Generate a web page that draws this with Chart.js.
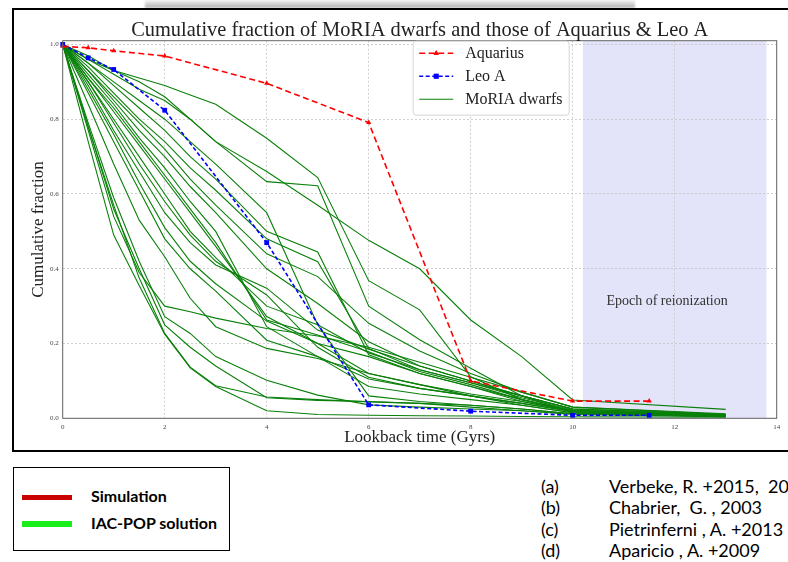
<!DOCTYPE html>
<html>
<head>
<meta charset="utf-8">
<script src="https://cdn.jsdelivr.net/npm/chart.js@4.4.1/dist/chart.umd.min.js"></script>
<style>
    html, body { margin: 0; padding: 0; background: #fff; }
    body { width: 788px; height: 562px; overflow: hidden; position: relative; }
    #chart { position: absolute; left: 0; top: 0; }
    #shadow {
        position: absolute; left: 145px; top: 0; width: 490px; height: 8px;
        background: linear-gradient(to bottom, rgba(0,0,0,0.04), rgba(0,0,0,0.32));
        filter: blur(1px);
    }
    #frame {
        position: absolute; left: 12px; top: 8px; width: 820px; height: 444px;
        box-sizing: border-box; border: 2.5px solid #000; pointer-events: none;
    }
    #keyBox {
        position: absolute; left: 13px; top: 467px; width: 217px; height: 84px;
        box-sizing: border-box; border: 1.5px solid #000;
    }
    .bar { position: absolute; left: 22px; width: 50px; height: 5.5px; }
    .keyText {
        position: absolute; left: 91px; font: bold 16px Lato, sans-serif; line-height: 16px;
        white-space: nowrap; color: #000;
    }
    .ref {
        position: absolute; font: 18px Lato, sans-serif; line-height: 21.3px; white-space: pre; color: #000;
    }
</style>
</head>
<body>
<div id="shadow"></div>
<canvas id="chart" width="788" height="452"></canvas>
<div id="frame"></div>

<div id="keyBox"></div>
<div class="bar" style="top:494.5px; background:#c80000;"></div>
<div class="keyText" style="top:487.5px;">Simulation</div>
<div class="bar" style="top:521px; background:#1bef1b;"></div>
<div class="keyText" style="top:514.5px;">IAC-POP solution</div>

<div id="refs"></div>

<script>
// 累积比例图: MoRIA 矮星系 vs Aquarius & Leo A

const TITLE = 'Cumulative fraction of MoRIA dwarfs and those of Aquarius & Leo A';
const SERIF = '"Liberation Serif", "DejaVu Serif", serif';

// 刻度
const xTicks = [0, 2, 4, 6, 8, 10, 12, 14];
const yTicks = [0.0, 0.2, 0.4, 0.6, 0.8, 1.0];

// 再电离时期 (Gyr)
const reionization = [10.2, 13.8];

// Aquarius
const aquariusX = [0, 0.5, 1, 2, 4, 6, 8, 10, 11.5];
const aquariusY = [0.995, 0.991, 0.983, 0.969, 0.896, 0.791, 0.100, 0.046, 0.046];

// Leo A
const leoX = [0, 0.5, 1, 2, 4, 6, 8, 10, 11.5];
const leoY = [1.0, 0.964, 0.933, 0.824, 0.470, 0.036, 0.019, 0.008, 0.008];

// MoRIA dwarfs (共用的时间点)
const moriaX = [0, 0.5, 1, 1.5, 2, 2.5, 3, 4, 5, 6, 7, 8, 9, 10, 13];
const moriaY = [
    [1, .74, .49, .355, .225, .135, .085, .020, .010, .008, .007, .006, .005, .004, .003],
    [1, .77, .54, .39, .300, .285, .268, .240, .220, .190, .150, .110, .070, .030, .010],
    [1, .78, .57, .375, .227, .137, .087, .057, .050, .044, .040, .035, .025, .012, .005],
    [1, .79, .59, .42, .272, .227, .165, .102, .062, .036, .030, .025, .020, .012, .006],
    [1, .78, .56, .40, .250, .190, .140, .055, .048, .045, .040, .030, .020, .010, .004],
    [1, .84, .68, .53, .432, .321, .245, .187, .160, .120, .090, .060, .035, .015, .006],
    [1, .87, .74, .61, .480, .400, .340, .209, .165, .105, .080, .060, .040, .018, .007],
    [1, .88, .76, .63, .510, .420, .360, .260, .200, .165, .120, .085, .045, .018, .006],
    [1, .89, .77, .66, .550, .470, .410, .348, .236, .185, .140, .100, .060, .025, .010],
    [1, .90, .79, .68, .580, .490, .420, .330, .190, .110, .080, .060, .040, .018, .007],
    [1, .90, .80, .70, .600, .500, .430, .300, .250, .175, .130, .095, .055, .022, .008],
    [1, .91, .82, .73, .640, .550, .460, .272, .200, .120, .090, .065, .045, .020, .008],
    [1, .91, .83, .74, .650, .560, .470, .263, .223, .178, .125, .090, .050, .020, .007],
    [1, .92, .84, .75, .670, .580, .500, .245, .165, .085, .065, .050, .035, .015, .006],
    [1, .93, .85, .77, .700, .620, .550, .400, .307, .205, .140, .100, .060, .025, .010],
    [1, .93, .86, .79, .720, .640, .570, .440, .379, .254, .180, .120, .070, .030, .012],
    [1, .94, .87, .80, .740, .670, .610, .480, .419, .187, .130, .095, .060, .025, .010],
    [1, .95, .89, .83, .770, .700, .640, .500, .445, .170, .120, .085, .050, .020, .008],
    [1, .95, .90, .85, .800, .740, .680, .550, .250, .060, .045, .035, .025, .012, .005],
    [1, .96, .92, .88, .850, .800, .740, .660, .570, .476, .400, .263, .165, .049, .024],
    [1, .96, .93, .90, .860, .800, .740, .633, .622, .300, .210, .134, .060, .015, .004],
    [1, .97, .93, .91, .890, .865, .840, .749, .644, .368, .290, .111, .050, .018, .006]
];

// 参考文献
const refLabels = ['(a)', '(b)', '(c)', '(d)'];
const refTexts = ['Verbeke, R. +2015,  20', 'Chabrier,  G. , 2003', 'Pietrinferni , A. +2013', 'Aparicio , A. +2009'];

const refs = document.getElementById('refs');
refLabels.forEach((label, i) => {
    const top = 476 + i * 21.3;
    refs.innerHTML += `<div class="ref" style="left:541px; top:${top}px;">${label}</div>` +
                      `<div class="ref" style="left:609px; top:${top}px;">${refTexts[i]}</div>`;
});

const toPoints = (xs, ys) => xs.map((x, i) => ({ x: x, y: ys[i] }));

const datasets = [
    {
        label: 'Aquarius',
        data: toPoints(aquariusX, aquariusY),
        borderColor: '#ff0000', backgroundColor: '#ff0000',
        borderWidth: 1.6, borderDash: [6, 3.5],
        pointStyle: 'triangle', pointRadius: 3, pointBorderWidth: 0,
        clip: false
    },
    {
        label: 'Leo A',
        data: toPoints(leoX, leoY),
        borderColor: '#0000ff', backgroundColor: '#0000ff',
        borderWidth: 1.6, borderDash: [4, 2.5],
        pointStyle: 'rect', pointRadius: 3.4, pointBorderWidth: 0,
        clip: false
    }
];
moriaY.forEach(ys => {
    datasets.push({
        label: 'MoRIA dwarfs',
        data: toPoints(moriaX, ys),
        borderColor: '#0a800a',
        borderWidth: 1.1,
        pointRadius: 0
    });
});

// 标题 (以绘图区为中心)
const titlePlugin = {
    id: 'centeredTitle',
    afterDraw(chart) {
        const { ctx, chartArea: a } = chart;
        ctx.save();
        ctx.fillStyle = '#222';
        ctx.font = '20.4px ' + SERIF;
        ctx.textAlign = 'center';
        ctx.textBaseline = 'alphabetic';
        ctx.fillText(TITLE, (a.left + a.right) / 2, 36);
        ctx.restore();
    }
};

// 背景阴影 + 文字
const shadePlugin = {
    id: 'shade',
    beforeDraw(chart) {
        const { ctx, chartArea: a, scales: { x, y } } = chart;
        const x0 = x.getPixelForValue(reionization[0]);
        const x1 = x.getPixelForValue(reionization[1]);
        ctx.save();
        ctx.fillStyle = '#e3e3f9';
        ctx.fillRect(x0, a.top, x1 - x0, a.bottom - a.top);
        ctx.fillStyle = '#333';
        ctx.font = '14px ' + SERIF;
        ctx.textAlign = 'center';
        ctx.textBaseline = 'middle';
        ctx.fillText('Epoch of reionization', x.getPixelForValue(11.85), y.getPixelForValue(0.314));
        ctx.restore();
    }
};

// 坐标框
const spinePlugin = {
    id: 'spines',
    afterDatasetsDraw(chart) {
        const { ctx, chartArea: a } = chart;
        ctx.save();
        ctx.strokeStyle = '#666';
        ctx.lineWidth = 1;
        ctx.strokeRect(a.left, a.top, a.right - a.left, a.bottom - a.top);
        ctx.restore();
    }
};

// 图内图例
const legendPlugin = {
    id: 'insideLegend',
    afterDraw(chart) {
        const { ctx, chartArea: a } = chart;
        const bx = a.left + 350.5, by = a.top + 0.5, bw = 156, bh = 74;
        ctx.save();
        ctx.fillStyle = 'rgba(255,255,255,0.85)';
        ctx.strokeStyle = '#d6d6d6';
        ctx.lineWidth = 1;
        ctx.beginPath();
        if (ctx.roundRect) ctx.roundRect(bx, by, bw, bh, 3); else ctx.rect(bx, by, bw, bh);
        ctx.fill();
        ctx.stroke();

        const entries = chart.data.datasets.slice(0, 3);
        entries.forEach((ds, i) => {
            const ly = by + 12 + i * 23;
            ctx.strokeStyle = ds.borderColor;
            ctx.lineWidth = ds.borderWidth;
            ctx.setLineDash(ds.borderDash || []);
            ctx.beginPath();
            ctx.moveTo(bx + 6, ly);
            ctx.lineTo(bx + 40, ly);
            ctx.stroke();
            ctx.setLineDash([]);
            if (ds.pointRadius) {
                ctx.fillStyle = ds.backgroundColor;
                Chart.helpers.drawPoint(ctx, { pointStyle: ds.pointStyle, radius: ds.pointRadius, rotation: 0, borderWidth: 0 }, bx + 23, ly);
                ctx.fill();
            }
            ctx.fillStyle = '#222';
            ctx.font = '16px ' + SERIF;
            ctx.textAlign = 'left';
            ctx.textBaseline = 'middle';
            ctx.fillText(ds.label, bx + 52, ly + 1);
        });
        ctx.restore();
    }
};

const gridStyle = { color: '#c4c4c4', lineWidth: 0.8, drawTicks: false };
const tickFont = { family: SERIF, size: 7 };

new Chart(document.getElementById('chart').getContext('2d'), {
    type: 'line',
    data: { datasets },
    options: {
        responsive: false,
        animation: false,
        layout: { padding: { left: 24, right: 11.3, top: 40.7, bottom: 0 } },
        elements: { line: { tension: 0 } },
        plugins: {
            legend: { display: false },
            tooltip: { enabled: false },
            title: { display: false }
        },
        scales: {
            x: {
                type: 'linear', min: 0, max: 14,
                afterBuildTicks: s => { s.ticks = xTicks.map(v => ({ value: v })); },
                afterFit: s => { s.height = 33.7; },
                grid: gridStyle,
                border: { display: false, dash: [2, 2] },
                ticks: { font: tickFont, color: '#444', padding: 5, maxRotation: 0, callback: v => String(v) },
                title: { display: true, text: 'Lookback time (Gyrs)', color: '#222', font: { family: SERIF, size: 17 }, padding: { top: 4, bottom: 4 } }
            },
            y: {
                type: 'linear', min: 0, max: 1.01,
                afterBuildTicks: s => { s.ticks = yTicks.map(v => ({ value: v })); },
                afterFit: s => { s.width = 38.7; },
                grid: gridStyle,
                border: { display: false, dash: [2, 2] },
                ticks: { font: tickFont, color: '#444', padding: 4, callback: v => Number(v).toFixed(1) },
                title: { display: true, text: 'Cumulative fraction', color: '#222', font: { family: SERIF, size: 17 }, padding: { top: 4, bottom: 4 } }
            }
        }
    },
    plugins: [titlePlugin, shadePlugin, spinePlugin, legendPlugin]
});
</script>
</body>
</html>
